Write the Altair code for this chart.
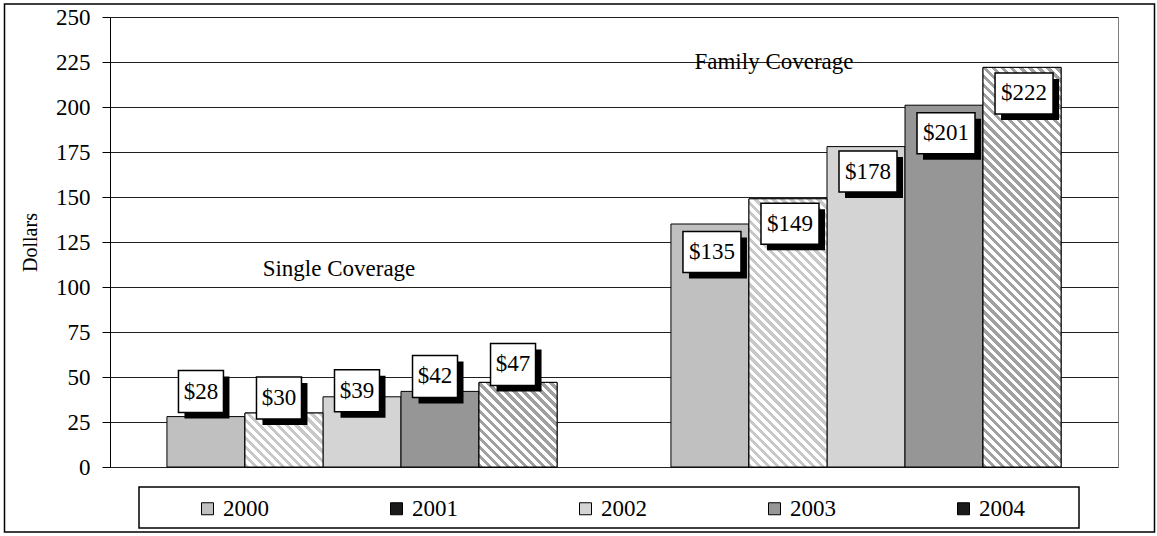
import math
import altair as alt
import pandas as pd

# ---- data -------------------------------------------------------------
groups = ["Single Coverage", "Family Coverage"]
years = ["2000", "2001", "2002", "2003", "2004"]
single_cost = [28, 30, 39, 42, 47]
family_cost = [135, 149, 178, 201, 222]

# label box lift above the bar top, in pixels (negative = inside the bar)
single_lift = [25, 15, 6, 15, 18]
family_lift = [-28, -25, -25, -28, -26]

# group captions and the dollar level they sit at
caption_text = ["Single Coverage", "Family Coverage"]
caption_level = [110, 225]

# ---- layout -----------------------------------------------------------
W, H = 1008, 450
YMAX = 250
PX = H / YMAX                      # pixels per dollar
SERIF = "Liberation Serif"
BAR_W = W / 2 * (1 - 0.226) / 5    # width of one year's bar

# legend / base colours (hatched years get a dark swatch in the legend)
solid = {"2000": "#C0C0C0", "2001": "#1A1A1A", "2002": "#D4D4D4",
         "2003": "#969696", "2004": "#1A1A1A"}
hatched = {"2001": "#C8C8C8", "2004": "#A0A0A0"}

rows = []
for g, vals, lifts in ((groups[0], single_cost, single_lift),
                       (groups[1], family_cost, family_lift)):
    for yr, v, lift in zip(years, vals, lifts):
        rows.append({"group": g, "year": yr, "value": v,
                     "label": f"${v}", "label_y": v + lift / PX})
df = pd.DataFrame(rows)

x_enc = alt.X("group:N", sort=groups, axis=None,
              scale=alt.Scale(paddingInner=0.226, paddingOuter=0.113))
xo_enc = alt.XOffset("year:N", sort=years,
                     scale=alt.Scale(paddingInner=0, paddingOuter=0))
y_scale = alt.Scale(domain=[0, YMAX], nice=False)


def stripes(w, h, color, period=6.4):
    """Diagonal 45-degree stripes as a hard-stop linear gradient."""
    c = (w + h) / (w * w + h * h)
    n = (w + h) / (math.sqrt(2) * period)
    stops = []
    k = 0
    while k < n:
        a = k / n
        b = min((k + 0.5) / n, 1.0)
        e = min((k + 1) / n, 1.0)
        stops += [{"offset": a, "color": color},
                  {"offset": b, "color": color},
                  {"offset": b, "color": "#FFFFFF"},
                  {"offset": e, "color": "#FFFFFF"}]
        k += 1
    return {"gradient": "linear", "x1": 0, "y1": 1,
            "x2": c * w, "y2": 1 - c * h, "stops": stops}


base = alt.Chart(df)

bars = base.mark_bar(stroke="black", strokeWidth=1).encode(
    x=x_enc, xOffset=xo_enc,
    y=alt.Y("value:Q", scale=y_scale,
            axis=alt.Axis(values=list(range(0, YMAX + 1, 25)), title="Dollars",
                          grid=True, gridColor="#202020", gridWidth=1,
                          domainColor="black", tickColor="black", tickSize=8,
                          labelFont=SERIF, labelFontSize=23, labelColor="black",
                          labelPadding=12,
                          titleFont=SERIF, titleFontSize=20, titleFontWeight="normal",
                          titleColor="black", titleX=-80, titleY=H / 2,
                          titleAngle=270, titleAlign="center", titleBaseline="middle")),
    fill=alt.Fill("year:N", sort=years,
                  scale=alt.Scale(domain=years, range=[solid[y] for y in years]),
                  legend=alt.Legend(
                      orient="none", legendX=86, legendY=480, direction="horizontal",
                      columns=5, title=None, symbolType="square", symbolSize=144,
                      symbolStrokeColor="black", symbolStrokeWidth=1,
                      symbolOpacity=1, labelFont=SERIF, labelFontSize=23,
                      labelColor="black", labelOffset=4, columnPadding=116,
                      padding=0)),
)

layers = [bars]

# hatched bars, one layer per bar so each gets 45-degree stripes
for g, vals in ((groups[0], single_cost), (groups[1], family_cost)):
    for yr, v in zip(years, vals):
        if yr in hatched:
            layers.append(
                base.transform_filter(
                    f"datum.group === '{g}' && datum.year === '{yr}'"
                ).mark_bar(fill=stripes(BAR_W, v * PX, hatched[yr]),
                           stroke="black", strokeWidth=1).encode(
                    x=x_enc, xOffset=xo_enc, y=alt.Y("value:Q", scale=y_scale))
            )

# value labels: white box with a black drop shadow
R = 30.0  # symbol path unit in pixels (size = (2R)^2)


def rect_path(cx, w, h, dx=0.0, dy=0.0):
    x0, x1 = (cx - w / 2 + dx) / R, (cx + w / 2 + dx) / R
    y0, y1 = (-h / 2 + dy) / R, (h / 2 + dy) / R
    return f"M{x0:.4f},{y0:.4f}L{x1:.4f},{y0:.4f}L{x1:.4f},{y1:.4f}L{x0:.4f},{y1:.4f}Z"


box_spec = {groups[0]: (-5, 45, 42), groups[1]: (2, 58, 41)}
for g, (cx, bw, bh) in box_spec.items():
    sub = base.transform_filter(f"datum.group === '{g}'")
    enc = dict(x=x_enc, xOffset=xo_enc, y=alt.Y("label_y:Q", scale=y_scale))
    layers.append(sub.mark_point(shape=rect_path(cx, bw, bh, 6, 6), size=(2 * R) ** 2,
                                 filled=True, fill="black", opacity=1,
                                 strokeWidth=0).encode(**enc))
    layers.append(sub.mark_point(shape=rect_path(cx, bw, bh), size=(2 * R) ** 2,
                                 filled=True, fill="white", opacity=1,
                                 stroke="black", strokeWidth=1.5).encode(**enc))
    layers.append(sub.mark_text(font=SERIF, fontSize=23, color="black",
                                baseline="middle", dx=cx).encode(
        text="label:N", **enc))

# group captions
cap_df = pd.DataFrame({"group": groups, "caption": caption_text, "level": caption_level})
for g, dx in zip(groups, (-23, -92)):
    layers.append(
        alt.Chart(cap_df).transform_filter(f"datum.group === '{g}'").mark_text(
            font=SERIF, fontSize=23, color="black", baseline="middle", dx=dx
        ).encode(x=x_enc, y=alt.Y("level:Q", scale=y_scale), text="caption:N")
    )

# legend frame and outer frame
frame_df = pd.DataFrame({"k": [0]})
layers.append(alt.Chart(frame_df).mark_rect(
    fill=None, stroke="black", strokeWidth=1.5).encode(
    x=alt.value(29), x2=alt.value(969), y=alt.value(470), y2=alt.value(511)))
layers.append(alt.Chart(frame_df).mark_rect(
    fill=None, stroke="black", strokeWidth=1.5).encode(
    x=alt.value(-105.5), x2=alt.value(1044.5), y=alt.value(-13), y2=alt.value(515)))

chart = alt.layer(*layers).properties(
    width=W, height=H,
    padding={"left": 110, "top": 17, "right": 39, "bottom": 69},
    autosize=alt.AutoSizeParams(type="none"),
    background="white",
).configure_view(stroke="#808080", strokeWidth=1)

chart.save("out.html", embed_options={"renderer": "svg", "actions": False})
